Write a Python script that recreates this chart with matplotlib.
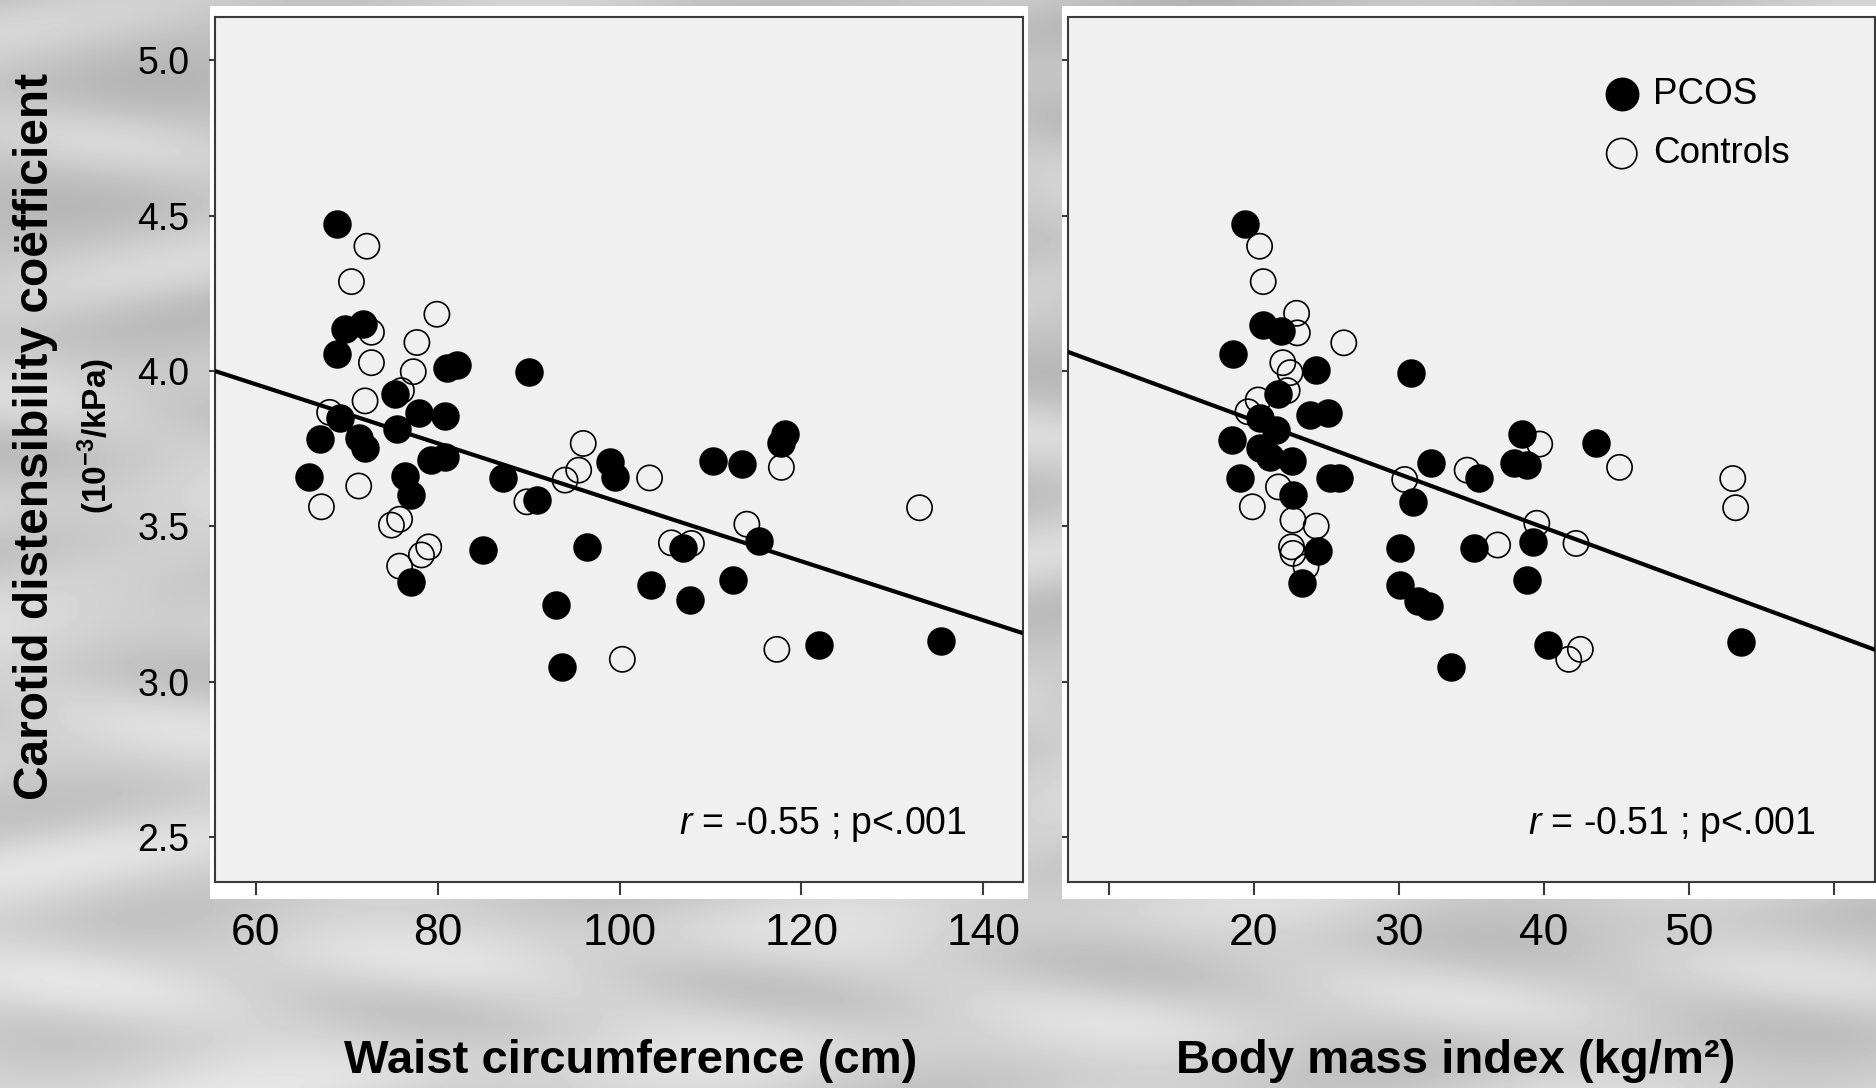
import numpy as np
import matplotlib.pyplot as plt
from matplotlib.patches import Rectangle

plt.rcParams['mathtext.fontset'] = 'custom'
plt.rcParams['mathtext.rm'] = 'Liberation Sans'
plt.rcParams['mathtext.it'] = 'Liberation Sans:italic'
plt.rcParams['mathtext.bf'] = 'Liberation Sans:bold'

narrow = ['Liberation Sans Narrow', 'Liberation Sans', 'DejaVu Sans']
plain = ['Liberation Sans', 'DejaVu Sans']

# waist circumference (cm) vs carotid distensibility coefficient
waist_pcos = [68.9, 69.8, 71.8, 68.9, 81.0, 82.1, 90.0, 75.3, 69.2, 77.9, 80.8, 75.5, 67.0, 71.3,
              72.0, 79.3, 80.8, 65.8, 87.2, 76.4, 77.0, 90.9, 85.0, 96.4, 77.0, 93.0, 98.9, 99.5,
              110.3, 113.5, 118.2, 117.8, 107.0, 115.3, 103.5, 107.8, 112.5, 93.7, 121.9, 135.4]
cdc_pcos_w = [4.472, 4.137, 4.151, 4.055, 4.009, 4.019, 3.998, 3.925, 3.848, 3.864, 3.855, 3.815, 3.780, 3.783,
              3.751, 3.713, 3.722, 3.660, 3.656, 3.662, 3.601, 3.585, 3.424, 3.434, 3.322, 3.247, 3.708, 3.660,
              3.710, 3.700, 3.797, 3.769, 3.429, 3.454, 3.311, 3.263, 3.327, 3.048, 3.118, 3.131]
waist_ctrl = [72.2, 70.5, 79.9, 72.7, 77.7, 72.7, 77.3, 76.0, 72.0, 68.1, 71.3, 67.2, 75.8, 74.9, 79.0,
              78.2, 75.8, 89.8, 96.0, 95.5, 94.0, 103.3, 105.7, 107.9, 114.0, 117.8, 133.0, 100.3, 117.3]
cdc_ctrl_w = [4.402, 4.288, 4.183, 4.125, 4.092, 4.027, 3.998, 3.937, 3.904, 3.867, 3.630, 3.563, 3.523, 3.504, 3.434,
              3.408, 3.372, 3.579, 3.767, 3.681, 3.649, 3.656, 3.447, 3.445, 3.507, 3.690, 3.560, 3.072, 3.104]

# body mass index (kg/m2) vs carotid distensibility coefficient
bmi_pcos = [19.4, 20.65, 21.9, 18.55, 24.3, 30.8, 21.7, 23.9, 25.1, 20.4, 21.5, 18.5, 20.4, 21.1, 22.6,
            32.2, 19.05, 25.25, 25.9, 31.0, 22.7, 24.4, 30.1, 23.3, 30.1, 31.3, 32.1, 35.5, 38.5, 37.9,
            38.8, 43.6, 35.2, 39.25, 38.8, 40.3, 33.6, 53.6]
cdc_pcos_b = [4.472, 4.148, 4.130, 4.054, 4.005, 3.995, 3.925, 3.858, 3.864, 3.848, 3.810, 3.778, 3.751, 3.724, 3.710,
              3.703, 3.656, 3.656, 3.656, 3.579, 3.601, 3.420, 3.429, 3.318, 3.311, 3.260, 3.243, 3.657, 3.796, 3.705,
              3.697, 3.770, 3.429, 3.450, 3.327, 3.118, 3.048, 3.129]
bmi_ctrl = [20.4, 20.65, 22.95, 23.0, 26.2, 22.0, 22.5, 22.3, 20.3, 19.6, 30.4, 21.7, 19.9, 22.7, 24.3,
            22.6, 22.7, 23.6, 34.7, 39.7, 45.2, 39.5, 36.8, 42.2, 53.0, 53.2, 42.5, 41.7]
cdc_ctrl_b = [4.402, 4.288, 4.186, 4.123, 4.091, 4.027, 3.995, 3.937, 3.907, 3.869, 3.651, 3.627, 3.563, 3.520, 3.501,
              3.434, 3.413, 3.370, 3.681, 3.765, 3.690, 3.510, 3.440, 3.445, 3.654, 3.560, 3.104, 3.072]

# regression lines (intercept, slope)
fit_waist = (4.527, -0.009495)
fit_bmi = (4.186, -0.01725)

W, H = 1876, 1088
fig = plt.figure(figsize=(W / 100, H / 100), dpi=100)

# grey watery backdrop
bg = fig.add_axes([0, 0, 1, 1], zorder=-5)
yy, xx = np.mgrid[0:H:4, 0:W:4]
tex = (0.77 + 0.035 * np.sin(xx / 70.0 + 2.5 * np.sin(yy / 45.0))
       + 0.03 * np.sin(yy / 19.0 + xx / 260.0)
       + 0.07 * (yy / H) * (1 - 0.5 * xx / W))
bg.imshow(tex, cmap='gray', vmin=0, vmax=1, aspect='auto', interpolation='bilinear')
bg.axis('off')

# white mounts behind each panel
fig.add_artist(Rectangle((210 / W, 1 - 899 / H), 818 / W, 893 / H, transform=fig.transFigure,
                         facecolor='white', edgecolor='none', zorder=-4))
fig.add_artist(Rectangle((1062 / W, 1 - 899 / H), 814 / W, 893 / H, transform=fig.transFigure,
                         facecolor='white', edgecolor='none', zorder=-4))

ax1 = fig.add_axes([215 / W, 1 - 882 / H, 808 / W, 865 / H])
ax2 = fig.add_axes([1068 / W, 1 - 882 / H, 807 / W, 865 / H])

for ax in (ax1, ax2):
    ax.set_facecolor('#f0f0f0')
    for s in ax.spines.values():
        s.set_color('#3a3a3a')
        s.set_linewidth(1.5)
    ax.set_ylim(2.355, 5.14)
    ax.set_yticks([2.5, 3.0, 3.5, 4.0, 4.5, 5.0])
    ax.tick_params(axis='y', length=4.5, width=1.5, color='#3a3a3a', pad=14)
    ax.tick_params(axis='x', length=9, width=1.5, color='#3a3a3a', pad=13)

ax1.set_yticklabels(['2.5', '3.0', '3.5', '4.0', '4.5', '5.0'], family=plain, fontsize=27)
ax2.set_yticklabels([])

ax1.set_xlim(55.49, 144.38)
ax1.set_xticks([60, 80, 100, 120, 140])
ax1.set_xticklabels(['60', '80', '100', '120', '140'], family=narrow, fontsize=32)

ax2.set_xlim(7.2, 62.8)
ax2.set_xticks([10, 20, 30, 40, 50, 60])
ax2.set_xticklabels(['', '20', '30', '40', '50', ''], family=narrow, fontsize=32)

# points: controls open, PCOS filled on top
ax1.scatter(waist_ctrl, cdc_ctrl_w, s=330, facecolors='none', edgecolors='black', linewidths=1.2, zorder=3)
ax1.scatter(waist_pcos, cdc_pcos_w, s=380, color='black', zorder=4)
ax1.axline((0, fit_waist[0]), slope=fit_waist[1], color='black', lw=3, zorder=5)

ax2.scatter(bmi_ctrl, cdc_ctrl_b, s=330, facecolors='none', edgecolors='black', linewidths=1.2,
            zorder=3, label='Controls')
ax2.scatter(bmi_pcos, cdc_pcos_b, s=380, color='black', zorder=4, label='PCOS')
ax2.axline((0, fit_bmi[0]), slope=fit_bmi[1], color='black', lw=3, zorder=5)

h, l = ax2.get_legend_handles_labels()
ax2.legend(h[::-1], l[::-1], loc='upper left', bbox_to_anchor=(0.636, 0.952), frameon=False,
           prop={'family': plain, 'size': 26.5}, markerscale=1.2, handletextpad=0.25,
           labelspacing=0.66, borderpad=0, handlelength=1.2)

ax1.text(0.9307, 0.0659, r'$r$ = -0.55 ; p<.001', transform=ax1.transAxes, ha='right', va='center',
         family=narrow, fontsize=27)
ax2.text(0.9269, 0.0659, r'$r$ = -0.51 ; p<.001', transform=ax2.transAxes, ha='right', va='center',
         family=narrow, fontsize=27)

fig.text(36 / W, 1 - 436 / H, 'Carotid distensibility coëfficient', rotation=90, ha='center', va='center',
         family=narrow, fontweight='bold', fontsize=34.5)
fig.text(96 / W, 1 - 436 / H, r'(10$^{\mathbf{-3}}$/kPa)', rotation=90, ha='center', va='center',
         family=narrow, fontweight='bold', fontsize=24)
fig.text(631 / W, 1 - 1061 / H, 'Waist circumference (cm)', ha='center', va='center',
         family=narrow, fontweight='bold', fontsize=34)
fig.text(1456 / W, 1 - 1061 / H, 'Body mass index (kg/m²)', ha='center', va='center',
         family=narrow, fontweight='bold', fontsize=34)

fig.savefig('out.png', dpi=100)
